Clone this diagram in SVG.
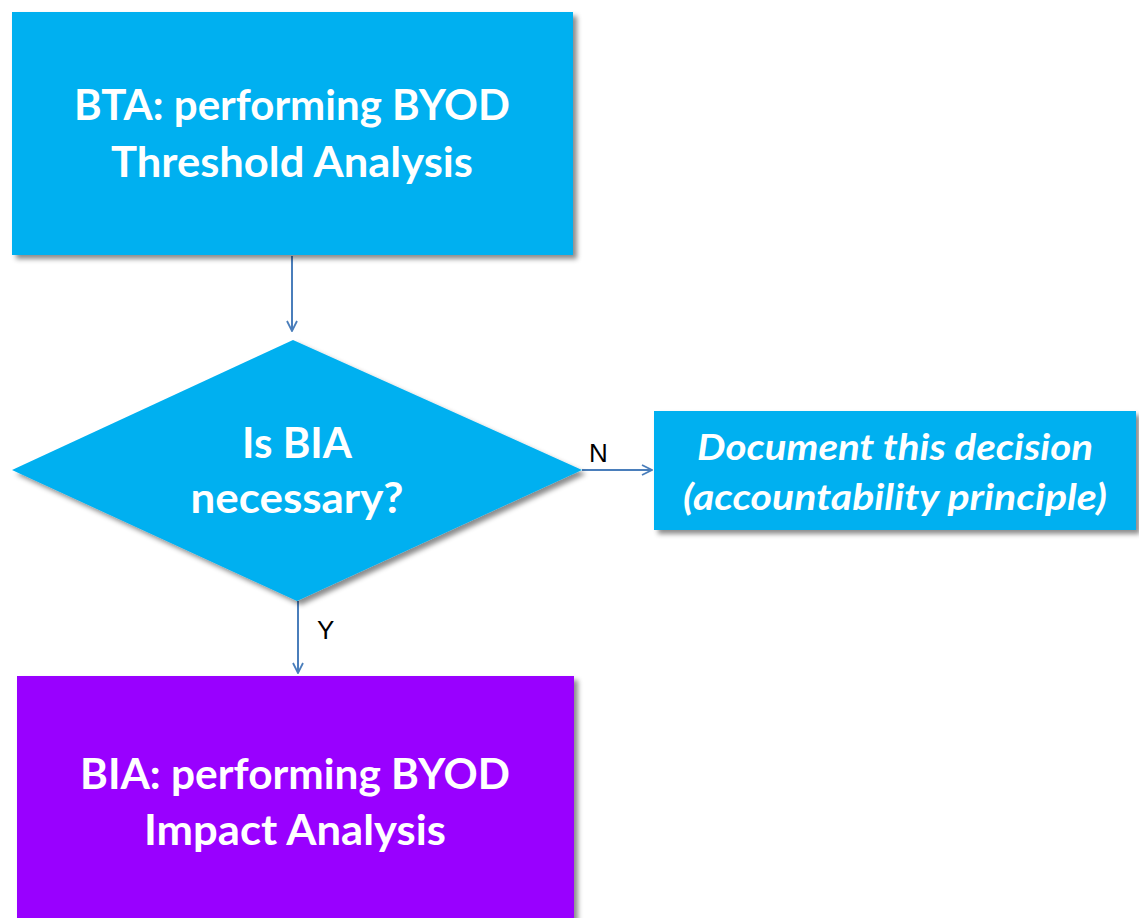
<svg xmlns="http://www.w3.org/2000/svg" width="1139" height="918" viewBox="0 0 1139 918">
<style>
.box{fill:#00B0F0;filter:url(#sh)}
.purple{fill:#9900FF;filter:url(#sh)}
.t{font-family:Lato,"Open Sans",sans-serif;font-weight:bold;fill:#fff;text-anchor:middle}
.lbl{font-family:"Liberation Sans",Arial,sans-serif;font-size:26px;fill:#000}
.c{stroke:#4A7EBB;stroke-width:2;fill:none;marker-end:url(#ah)}
</style>
<defs>
<filter id="sh" x="-5%" y="-5%" width="115%" height="120%">
<feDropShadow dx="4" dy="4" stdDeviation="2.5" flood-color="#000" flood-opacity="0.45"/>
</filter>
<marker id="ah" viewBox="0 0 12 12" refX="11" refY="6" markerWidth="12" markerHeight="12" markerUnits="userSpaceOnUse" orient="auto">
<path d="M1,1 L11,6 L1,11" fill="none" stroke="#4A7EBB" stroke-width="1.8"/>
</marker>
</defs>
<rect width="1139" height="918" fill="#fff"/>
<g id="connectors">
<line class="c" x1="292" y1="256" x2="292" y2="331"/>
<line class="c" x1="582" y1="470" x2="652" y2="470"/>
<line class="c" x1="298" y1="601" x2="298" y2="673"/>
<text class="lbl" x="589" y="462">N</text>
<text class="lbl" x="317" y="639">Y</text>
</g>
<g id="bta">
<rect class="box" x="12" y="12" width="561" height="243"/>
<text class="t" x="292" y="120" font-size="42" textLength="436" lengthAdjust="spacingAndGlyphs">BTA: performing BYOD</text>
<text class="t" x="292" y="177" font-size="42" textLength="362" lengthAdjust="spacingAndGlyphs">Threshold Analysis</text>
</g>
<g id="decision">
<polygon class="box" points="293,340 582,470 297,601 12,470"/>
<text class="t" x="297" y="458" font-size="42">Is BIA</text>
<text class="t" x="297" y="513" font-size="42" textLength="213" lengthAdjust="spacingAndGlyphs">necessary?</text>
</g>
<g id="document">
<rect class="box" x="654" y="411" width="482" height="119"/>
<text class="t" x="895" y="460" font-size="36" font-style="italic" textLength="396" lengthAdjust="spacingAndGlyphs">Document this decision</text>
<text class="t" x="895" y="510" font-size="36" font-style="italic" textLength="424" lengthAdjust="spacingAndGlyphs">(accountability principle)</text>
</g>
<g id="bia">
<rect class="purple" x="17" y="676" width="557" height="260"/>
<text class="t" x="295" y="789" font-size="42" textLength="430" lengthAdjust="spacingAndGlyphs">BIA: performing BYOD</text>
<text class="t" x="295" y="845" font-size="42" textLength="302" lengthAdjust="spacingAndGlyphs">Impact Analysis</text>
</g>
</svg>
